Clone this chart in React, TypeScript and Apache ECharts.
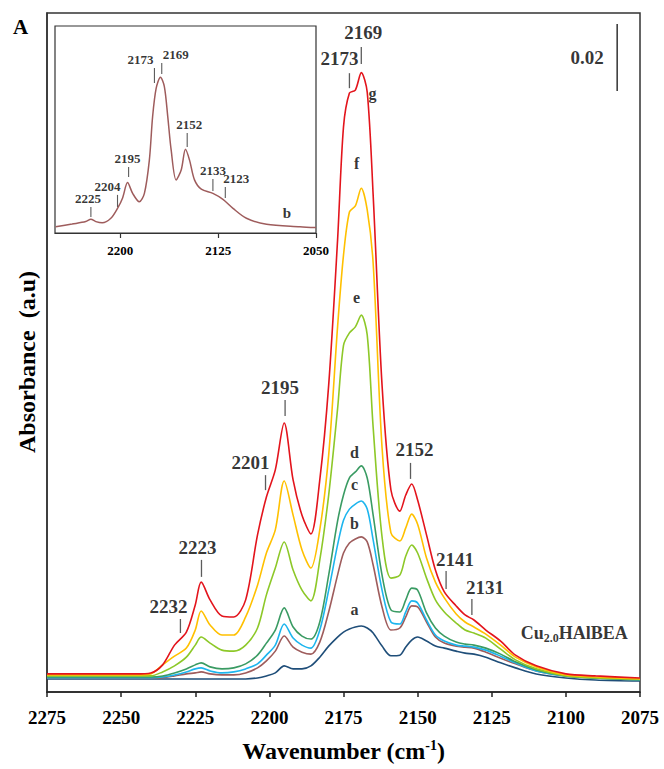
import { useEffect, useRef } from "react";
import * as echarts from "echarts";

// ---- Main spectra: CO adsorbed on Cu2.0HAlBEA (a → g, increasing CO dose) ----
const wavenumbers = [
  2275, 2260, 2250, 2245, 2240, 2236, 2232, 2228, 2225, 2223,
  2220, 2216, 2212, 2208, 2204, 2201, 2198, 2195, 2192, 2189,
  2186, 2183, 2180, 2177, 2175, 2173, 2171, 2169, 2167, 2165,
  2162, 2159, 2156, 2154, 2152, 2150, 2147, 2144, 2141, 2137,
  2134, 2131, 2127, 2122, 2117, 2110, 2100, 2090, 2075,
];

const spectrumA = [
  0.0039, 0.0039, 0.0039, 0.0039, 0.0039, 0.0039, 0.0039, 0.0039, 0.0039, 0.0039,
  0.0039, 0.0039, 0.0039, 0.0039, 0.0042, 0.0048, 0.0057, 0.0078, 0.0069, 0.0069,
  0.0078, 0.0104, 0.0137, 0.0164, 0.0179, 0.0188, 0.0194, 0.0197, 0.0191, 0.0176,
  0.0137, 0.0108, 0.0110, 0.0134, 0.0155, 0.0164, 0.0152, 0.0137, 0.0131, 0.0122,
  0.0116, 0.0113, 0.0104, 0.0087, 0.0072, 0.0054, 0.0042, 0.0036, 0.0033,
];
const spectrumB = [
  0.0042, 0.0042, 0.0042, 0.0042, 0.0042, 0.0043, 0.0048, 0.0054, 0.0057, 0.0060,
  0.0054, 0.0051, 0.0051, 0.0057, 0.0072, 0.0093, 0.0122, 0.0167, 0.0134, 0.0119,
  0.0113, 0.0149, 0.0239, 0.0349, 0.0415, 0.0445, 0.0457, 0.0463, 0.0448, 0.0379,
  0.0254, 0.0185, 0.0191, 0.0224, 0.0257, 0.0254, 0.0209, 0.0164, 0.0146, 0.0137,
  0.0134, 0.0131, 0.0119, 0.0101, 0.0084, 0.0063, 0.0048, 0.0042, 0.0036,
];
const spectrumC = [
  0.0043, 0.0043, 0.0043, 0.0043, 0.0043, 0.0045, 0.0051, 0.0060, 0.0069, 0.0072,
  0.0063, 0.0057, 0.0060, 0.0069, 0.0084, 0.0110, 0.0140, 0.0203, 0.0161, 0.0140,
  0.0131, 0.0185, 0.0304, 0.0439, 0.0513, 0.0546, 0.0561, 0.0570, 0.0546, 0.0454,
  0.0304, 0.0209, 0.0203, 0.0239, 0.0272, 0.0266, 0.0215, 0.0170, 0.0152, 0.0140,
  0.0137, 0.0134, 0.0125, 0.0107, 0.0087, 0.0063, 0.0048, 0.0042, 0.0036,
];
const spectrumD = [
  0.0045, 0.0045, 0.0045, 0.0045, 0.0045, 0.0048, 0.0057, 0.0069, 0.0081, 0.0087,
  0.0075, 0.0069, 0.0072, 0.0084, 0.0110, 0.0146, 0.0185, 0.0251, 0.0194, 0.0167,
  0.0158, 0.0209, 0.0349, 0.0510, 0.0588, 0.0639, 0.0657, 0.0675, 0.0639, 0.0528,
  0.0349, 0.0245, 0.0239, 0.0275, 0.0310, 0.0304, 0.0236, 0.0191, 0.0167, 0.0149,
  0.0143, 0.0140, 0.0131, 0.0113, 0.0090, 0.0066, 0.0048, 0.0042, 0.0036,
];
const spectrumE = [
  0.0048, 0.0048, 0.0048, 0.0048, 0.0048, 0.0060, 0.0078, 0.0104, 0.0140, 0.0164,
  0.0146, 0.0125, 0.0122, 0.0140, 0.0191, 0.0290, 0.0370, 0.0448, 0.0364, 0.0304,
  0.0272, 0.0394, 0.0588, 0.0845, 0.1035, 0.1072, 0.1090, 0.1125, 0.1066, 0.0790,
  0.0463, 0.0340, 0.0349, 0.0406, 0.0439, 0.0415, 0.0340, 0.0275, 0.0239, 0.0206,
  0.0185, 0.0176, 0.0161, 0.0128, 0.0096, 0.0069, 0.0048, 0.0042, 0.0039,
];
const spectrumF = [
  0.0051, 0.0051, 0.0051, 0.0051, 0.0054, 0.0081, 0.0107, 0.0131, 0.0185, 0.0242,
  0.0200, 0.0170, 0.0170, 0.0224, 0.0319, 0.0415, 0.0484, 0.0630, 0.0528, 0.0424,
  0.0370, 0.0484, 0.0707, 0.1090, 0.1304, 0.1433, 0.1451, 0.1504, 0.1439, 0.1280,
  0.0730, 0.0475, 0.0451, 0.0490, 0.0531, 0.0501, 0.0400, 0.0328, 0.0281, 0.0233,
  0.0209, 0.0194, 0.0173, 0.0140, 0.0104, 0.0075, 0.0051, 0.0045, 0.0039,
];
const spectrumG = [
  0.0054, 0.0054, 0.0054, 0.0054, 0.0057, 0.0081, 0.0140, 0.0179, 0.0260, 0.0328,
  0.0275, 0.0227, 0.0224, 0.0275, 0.0469, 0.0582, 0.0663, 0.0803, 0.0633, 0.0528,
  0.0472, 0.0633, 0.0916, 0.1349, 0.1687, 0.1788, 0.1797, 0.1849, 0.1791, 0.1484,
  0.0916, 0.0603, 0.0540, 0.0588, 0.0621, 0.0573, 0.0469, 0.0364, 0.0299, 0.0257,
  0.0230, 0.0215, 0.0185, 0.0152, 0.0110, 0.0078, 0.0054, 0.0048, 0.0042,
];

const curveNames = ["a", "b", "c", "d", "e", "f", "g"];
const curveValues = [spectrumA, spectrumB, spectrumC, spectrumD, spectrumE, spectrumF, spectrumG];

// Peak assignments on the main panel: [tick wavenumber, tick centre absorbance, label]
const mainPeaks: [number, number, string][] = [
  [2230.0, 0.0197, "2232"],
  [2222.9, 0.0369, "2223"],
  [2201.3, 0.0625, "2201"],
  [2194.7, 0.0848, "2195"],
  [2173.0, 0.1825, "2173"],
  [2169.0, 0.1900, "2169"],
  [2152.4, 0.0660, "2152"],
  [2140.4, 0.0334, "2141"],
  [2131.7, 0.0254, "2131"],
];

// Curve letters: [wavenumber, absorbance, letter]
const curveLetters: [number, number, string][] = [
  [2171.3, 0.0245, "a"],
  [2171.3, 0.0504, "b"],
  [2171.3, 0.0618, "c"],
  [2171.3, 0.0716, "d"],
  [2170.6, 0.1179, "e"],
  [2170.6, 0.1579, "f"],
  [2165.2, 0.1788, "g"],
];

const sampleLabelAt: [number, number] = [2097.2, 0.0176];

// Absorbance scale bar (0.02)
const scaleBarWavenumber = 2082.7;
const scaleBarFrom = 0.1794;
const scaleBarTo = 0.1994;

// ---- Inset: spectrum b over the full range ----
const insetWavenumbers = [
  2249.5, 2236.9, 2226.4, 2222.5, 2218.7, 2213.8, 2207.2, 2202.1, 2198.2, 2194.4,
  2190.5, 2185.4, 2181.5, 2177.7, 2175.2, 2172.5, 2169.2, 2166.2, 2163.6, 2161.0,
  2157.2, 2153.3, 2150.0, 2146.9, 2143.1, 2137.9, 2129.0, 2121.3, 2113.6, 2103.3,
  2087.9, 2062.3, 2050.0,
];
const insetAbsorbance = [
  0.0021, 0.0030, 0.0038, 0.0046, 0.0038, 0.0034, 0.0049, 0.0082, 0.0117, 0.0168,
  0.0132, 0.0104, 0.0132, 0.0243, 0.0388, 0.0482, 0.0519, 0.0488, 0.0388, 0.0277,
  0.0177, 0.0210, 0.0279, 0.0243, 0.0177, 0.0146, 0.0132, 0.0112, 0.0082, 0.0049,
  0.0029, 0.0021, 0.0018,
];
const insetTicks = [2200, 2125, 2050];
const insetPeaks: [number, number, string][] = [
  [2222.5, 0.0070, "2225"],
  [2202.1, 0.0107, "2204"],
  [2193.6, 0.0203, "2195"],
  [2173.8, 0.0525, "2173"],
  [2168.2, 0.0548, "2169"],
  [2148.7, 0.0310, "2152"],
  [2129.0, 0.0160, "2133"],
  [2119.5, 0.0135, "2123"],
];
const insetLetter: [number, number, string] = [2072.3, 0.0067, "b"];

// ---- styles ----
const SERIF = '"Liberation Serif", "Times New Roman", serif';
const AXIS = "#333333";
const curveColors = ["#1F4E79", "#9E5C5C", "#1DB5EE", "#3A9B63", "#8DC828", "#FFC000", "#E3141C"];
const mainTickStyle: { h: number; dx: number; gap: number }[] = [
  { h: 14, dx: -12, gap: 3 },
  { h: 17, dx: -4, gap: 3 },
  { h: 15, dx: -15, gap: 3 },
  { h: 16, dx: -5, gap: 3 },
  { h: 15, dx: -10, gap: 5 },
  { h: 17, dx: 2, gap: 5 },
  { h: 16, dx: 4, gap: 4 },
  { h: 18, dx: 9, gap: 2 },
  { h: 16, dx: 13, gap: 2 },
];
const insetTickStyle: { h: number; dx: number }[] = [
  { h: 10, dx: -3 },
  { h: 12, dx: -10 },
  { h: 10, dx: -1 },
  { h: 15, dx: -14 },
  { h: 11, dx: 14 },
  { h: 14, dx: 2 },
  { h: 12, dx: 0 },
  { h: 11, dx: 11 },
];

const plainNumber = (v: number) => String(v);

function buildOption() {
  const boldText = { fontFamily: SERIF, fontWeight: "bold" as const, color: "#000" };
  const hiddenPoint = { color: "rgba(0,0,0,0)" };

  const spectra = curveNames.map((name, k) => ({
    name,
    type: "line",
    xAxisIndex: 0,
    yAxisIndex: 0,
    data: wavenumbers.map((w, i) => [w, curveValues[k][i]]),
    smooth: 0.3,
    showSymbol: false,
    symbol: "none",
    lineStyle: { color: curveColors[k], width: 1.6 },
    z: 2 + k,
  }));

  const peakMarks = {
    type: "scatter",
    xAxisIndex: 0,
    yAxisIndex: 0,
    symbol: "rect",
    itemStyle: { color: AXIS },
    z: 20,
    data: mainPeaks.map(([w, y, text], i) => ({
      value: [w, y],
      symbolSize: [1.3, mainTickStyle[i].h],
      label: {
        show: true,
        position: "top",
        distance: mainTickStyle[i].gap,
        offset: [mainTickStyle[i].dx, 0],
        formatter: text,
        ...boldText,
        fontSize: 19,
      },
    })),
  };

  const letters = {
    type: "scatter",
    xAxisIndex: 0,
    yAxisIndex: 0,
    symbolSize: 1,
    itemStyle: hiddenPoint,
    z: 20,
    label: { show: true, position: "inside", ...boldText, fontSize: 16 },
    data: [
      ...curveLetters.map(([w, y, t]) => ({ value: [w, y], label: { formatter: t } })),
      {
        value: sampleLabelAt,
        label: {
          formatter: "{m|Cu}{s|2.0}{m|HAlBEA}",
          rich: {
            m: { ...boldText, fontSize: 18 },
            s: { ...boldText, fontSize: 12, padding: [9, 0, 0, 0] },
          },
        },
      },
    ],
  };

  const scaleBar = {
    type: "line",
    xAxisIndex: 0,
    yAxisIndex: 0,
    symbol: "none",
    lineStyle: { color: AXIS, width: 1.5 },
    data: [
      [scaleBarWavenumber, scaleBarFrom],
      [scaleBarWavenumber, scaleBarTo],
    ],
    z: 20,
  };
  const scaleBarLabel = {
    type: "scatter",
    xAxisIndex: 0,
    yAxisIndex: 0,
    symbolSize: 1,
    itemStyle: hiddenPoint,
    label: { show: true, position: "left", distance: 13, formatter: "0.02", ...boldText, fontSize: 19 },
    data: [[scaleBarWavenumber, (scaleBarFrom + scaleBarTo) / 2]],
    z: 20,
  };

  const insetLine = {
    type: "line",
    xAxisIndex: 1,
    yAxisIndex: 1,
    data: insetWavenumbers.map((w, i) => [w, insetAbsorbance[i]]),
    smooth: 0.3,
    symbol: "none",
    lineStyle: { color: curveColors[1], width: 1.5 },
    z: 12,
  };
  const insetMarks = {
    type: "scatter",
    xAxisIndex: 1,
    yAxisIndex: 1,
    symbol: "rect",
    itemStyle: { color: AXIS },
    z: 20,
    data: insetPeaks.map(([w, y, text], i) => ({
      value: [w, y],
      symbolSize: [1.1, insetTickStyle[i].h],
      label: {
        show: true,
        position: "top",
        distance: 2,
        offset: [insetTickStyle[i].dx, 0],
        formatter: text,
        ...boldText,
        fontSize: 13,
      },
    })),
  };
  const insetLetterSeries = {
    type: "scatter",
    xAxisIndex: 1,
    yAxisIndex: 1,
    symbolSize: 1,
    itemStyle: hiddenPoint,
    z: 20,
    label: { show: true, position: "inside", formatter: insetLetter[2], ...boldText, fontSize: 15 },
    data: [[insetLetter[0], insetLetter[1]]],
  };

  return {
    animation: false,
    backgroundColor: "#fff",
    grid: [
      { left: 47, top: 13, width: 593, height: 679, show: true, borderColor: AXIS, borderWidth: 1.5 },
      {
        left: 55,
        top: 26,
        width: 261,
        height: 207,
        show: true,
        borderColor: AXIS,
        borderWidth: 1.2,
        backgroundColor: "#fff",
        z: 10,
      },
    ],
    xAxis: [
      {
        type: "value",
        gridIndex: 0,
        inverse: true,
        min: 2075,
        max: 2275,
        interval: 25,
        axisLine: { show: true, lineStyle: { color: "#222", width: 1.5 } },
        axisTick: { show: true, inside: false, length: 5, lineStyle: { color: "#222", width: 1.5 } },
        axisLabel: { ...boldText, fontSize: 19, margin: 16, formatter: plainNumber },
        splitLine: { show: false },
        name: "{t|Wavenumber (cm}{s|-1}{t|)}",
        nameLocation: "middle",
        nameGap: 46,
        nameTextStyle: {
          rich: {
            t: { ...boldText, fontSize: 24 },
            s: { ...boldText, fontSize: 14, padding: [0, 0, 12, 0] },
          },
        },
      },
      {
        type: "value",
        gridIndex: 1,
        inverse: true,
        min: 2050,
        max: 2250,
        axisLine: { show: true, lineStyle: { color: AXIS, width: 1.2 } },
        axisTick: {
          show: true,
          inside: false,
          length: 5,
          customValues: insetTicks,
          lineStyle: { color: AXIS, width: 1.2 },
        },
        axisLabel: {
          ...boldText,
          fontSize: 13,
          margin: 11,
          customValues: insetTicks,
          formatter: plainNumber,
        },
        splitLine: { show: false },
        z: 11,
      },
    ],
    yAxis: [
      {
        type: "value",
        gridIndex: 0,
        min: 0,
        max: 0.2027,
        axisLine: { show: true, lineStyle: { color: AXIS, width: 1.5 } },
        axisTick: { show: false },
        axisLabel: { show: false },
        splitLine: { show: false },
      },
      {
        type: "value",
        gridIndex: 1,
        min: 0,
        max: 0.069,
        axisLine: { show: false },
        axisTick: { show: false },
        axisLabel: { show: false },
        splitLine: { show: false },
      },
    ],
    graphic: [
      {
        type: "text",
        left: 13,
        top: 16,
        style: { text: "A", font: `bold 21px ${SERIF}`, fill: "#000" },
      },
      {
        type: "text",
        x: 27,
        y: 362,
        rotation: Math.PI / 2,
        style: {
          text: "Absorbance  (a.u)",
          font: `bold 24px ${SERIF}`,
          fill: "#000",
          align: "center",
          verticalAlign: "middle",
        },
      },
    ],
    series: [
      ...spectra,
      peakMarks,
      letters,
      scaleBar,
      scaleBarLabel,
      insetLine,
      insetMarks,
      insetLetterSeries,
    ],
  };
}

export default function App() {
  const ref = useRef<HTMLDivElement>(null);
  useEffect(() => {
    document.body.style.margin = "0";
    const chart = echarts.init(ref.current!, null, { renderer: "svg" });
    chart.setOption(buildOption() as any);
    return () => chart.dispose();
  }, []);
  return <div ref={ref} style={{ width: 664, height: 769, background: "#fff" }} />;
}
